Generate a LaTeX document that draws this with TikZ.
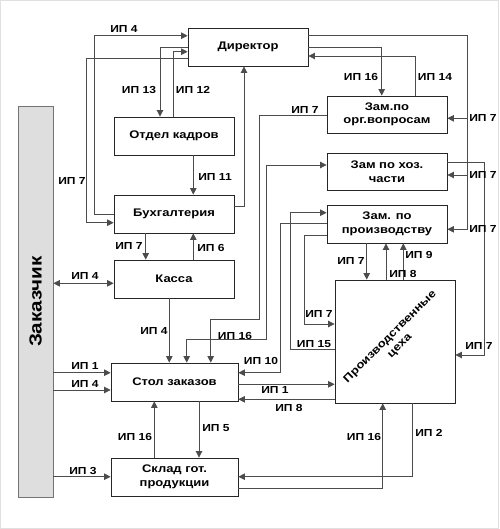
\documentclass[tikz,border=0pt]{standalone}
\usepackage{fontspec}
\setmainfont{Liberation Sans}[FakeStretch=1.18]
\usetikzlibrary{arrows.meta}
\begin{document}
\begin{tikzpicture}[x=1pt,y=-1pt,
  box/.style={draw=black!85, line width=0.8pt, fill=white, minimum width=120pt, minimum height=38pt, inner sep=0pt, align=center, font=\bfseries\fontsize{11}{13.5}\selectfont},
  conn/.style={draw=black!70, line width=0.7pt},
  arr/.style={conn, -{Triangle[length=6.5pt,width=6.5pt]}},
  darr/.style={conn, {Triangle[length=6.5pt,width=6.5pt]}-{Triangle[length=6.5pt,width=6.5pt]}},
  lbl/.style={font=\bfseries\fontsize{10.2}{12}\selectfont, inner sep=0pt}]
\useasboundingbox (0,0) rectangle (499,529);
\draw[black!12] (0.5,0.5) rectangle (498.5,528.5);

% boxes
\node[box] (dir) at (248,47) {Директор};
\node[box] (kadr) at (174,136) {Отдел кадров};
\node[box] (buh) at (174,214) {Бухгалтерия};
\node[box] (kassa) at (174,279) {Касса};
\node[box, minimum width=127pt] (stol) at (174.5,382) {Стол заказов};
\node[box, minimum width=127pt] (sklad) at (174.5,477) {Склад гот.\\продукции};
\node[box, minimum height=37pt] (zorg) at (387,114.5) {Зам.по\\орг.вопросам};
\node[box, minimum height=37pt] (zhoz) at (387,171.5) {Зам по хоз.\\части};
\node[box] (zpr) at (387,224) {Зам. по\\производству};
\node[box, minimum height=123pt] (ceh) at (395,341.5) {\rotatebox{45}{\begin{tabular}{@{}c@{}}Производственные\\[0pt]цеха\end{tabular}}};
\node[draw=black!55, line width=0.8pt, fill=black!13, minimum width=35pt, minimum height=391pt, inner sep=0pt, font=\bfseries\fontsize{17.5}{20}\selectfont] (zak) at (35.5,301.5) {\rotatebox{90}{Заказчик}};

% coordinates on the right trunk
\coordinate (rt1) at (467.3,118.3);
\coordinate (rt2) at (467.3,175);
\coordinate (rt3) at (467.3,229.3);

% connectors, left part
\draw[arr] (buh.west |- 0,214) -- ++(-19,0) |- (dir.west |- 0,35.7);
\draw[arr] (dir.west |- 0,58.3) -- ++(-101.3,0) |- (buh.west |- 0,222.7);
\draw[arr] (dir.west |- 0,47.7) -| (kadr.north -| 160,0);
\draw[arr] (kadr.north -| 173.3,0) |- (dir.west |- 0,51.7);
\draw[arr] (kadr.south -| 193.3,0) -- (buh.north -| 193.3,0);
\draw[arr] (buh.east |- 0,206.7) -| (dir.south -| 244,0);
\draw[arr] (buh.south -| 145.7,0) -- (kassa.north -| 145.7,0);
\draw[arr] (kassa.north -| 193.3,0) -- (buh.south -| 193.3,0);
\draw[darr] (zak.east |- 0,283.3) -- (kassa.west |- 0,283.3);
\draw[arr] (kassa.south -| 169.3,0) -- (stol.north -| 169.3,0);

% connectors, middle
\draw[darr] (stol.north -| 186.7,0) -- ++(0,-23) -| (266,165) -- (zhoz.west |- 0,165);
\draw[arr] (zorg.west |- 0,115) -- (259.3,115) |- (210.7,319) -- (stol.north -| 210.7,0);
\draw[arr] (zpr.west |- 0,223.3) -| (280.7,372.7) -- (stol.east |- 0,372.7);
\draw[arr] (ceh.west |- 0,349) -| (290,212.7) -- (zpr.west |- 0,212.7);
\draw[arr] (zpr.west |- 0,235.5) -| (304.3,324) -- (ceh.west |- 0,324);
\draw[arr] (stol.east |- 0,384.3) -- (ceh.west |- 0,384.3);
\draw[arr] (ceh.west |- 0,399.3) -- (stol.east |- 0,399.3);
\draw[arr] (zpr.south -| 366.7,0) -- (ceh.north -| 366.7,0);
\draw[arr] (ceh.north -| 386,0) -- (zpr.south -| 386,0);
\draw[arr] (ceh.north -| 403.3,0) -- (zpr.south -| 403.3,0);

% connectors, right
\draw[arr] (dir.east |- 0,35.7) -| (rt3) -- (zpr.east |- rt3);
\draw[arr] (rt1) -- (zorg.east |- rt1);
\draw[arr] (rt2) -- (zhoz.east |- rt2);
\draw[arr] (dir.east |- 0,47.7) -| (zorg.north -| 381.7,0);
\draw[arr] (zorg.north -| 415,0) |- (dir.east |- 0,56);
\draw[arr] (zhoz.east |- 0,162.7) -| (484.3,355) -- (ceh.east |- 0,355);
\draw[arr] (ceh.south -| 412.7,0) |- (sklad.east |- 0,476.7);
\draw[arr] (sklad.east |- 0,488.3) -| (ceh.south -| 382.7,0);

% connectors, bottom
\draw[arr] (stol.south -| 199,0) -- (sklad.north -| 199,0);
\draw[arr] (sklad.north -| 154.3,0) -- (stol.south -| 154.3,0);
\draw[arr] (zak.east |- 0,372.7) -- (stol.west |- 0,372.7);
\draw[arr] (zak.east |- 0,390) -- (stol.west |- 0,390);
\draw[arr] (zak.east |- 0,476.7) -- (sklad.west |- 0,476.7);

% labels
\node[lbl] (l1) at (124,29) {ИП 4};
\node[lbl] (l2) at (72,181) {ИП 7};
\node[lbl] (l3) at (139,90) {ИП 13};
\node[lbl] (l4) at (193,90) {ИП 12};
\node[lbl] (l5) at (215,177) {ИП 11};
\node[lbl] (l6) at (129,246) {ИП 7};
\node[lbl] (l7) at (211,248) {ИП 6};
\node[lbl] (l8) at (85,276) {ИП 4};
\node[lbl] (l9) at (154,331) {ИП 4};
\node[lbl] (l10) at (235,336) {ИП 16};
\node[lbl] (l11) at (305,110) {ИП 7};
\node[lbl] (l12) at (261,361) {ИП 10};
\node[lbl] (l13) at (314,344) {ИП 15};
\node[lbl] (l14) at (319,314) {ИП 7};
\node[lbl] (l15) at (275,390) {ИП 1};
\node[lbl] (l16) at (289,408) {ИП 8};
\node[lbl] (l17) at (351,261) {ИП 7};
\node[lbl] (l18) at (403,274) {ИП 8};
\node[lbl] (l19) at (419,255) {ИП 9};
\node[lbl] (l20) at (483,118) {ИП 7};
\node[lbl] (l21) at (483,175) {ИП 7};
\node[lbl] (l22) at (483,229) {ИП 7};
\node[lbl] (l23) at (361,77) {ИП 16};
\node[lbl] (l24) at (435,77) {ИП 14};
\node[lbl] (l25) at (479,346) {ИП 7};
\node[lbl] (l26) at (429,433) {ИП 2};
\node[lbl] (l27) at (364,437) {ИП 16};
\node[lbl] (l28) at (216,428) {ИП 5};
\node[lbl] (l29) at (135,437) {ИП 16};
\node[lbl] (l30) at (85,366) {ИП 1};
\node[lbl] (l31) at (85,384) {ИП 4};
\node[lbl] (l32) at (83,471) {ИП 3};
\end{tikzpicture}
\end{document}
